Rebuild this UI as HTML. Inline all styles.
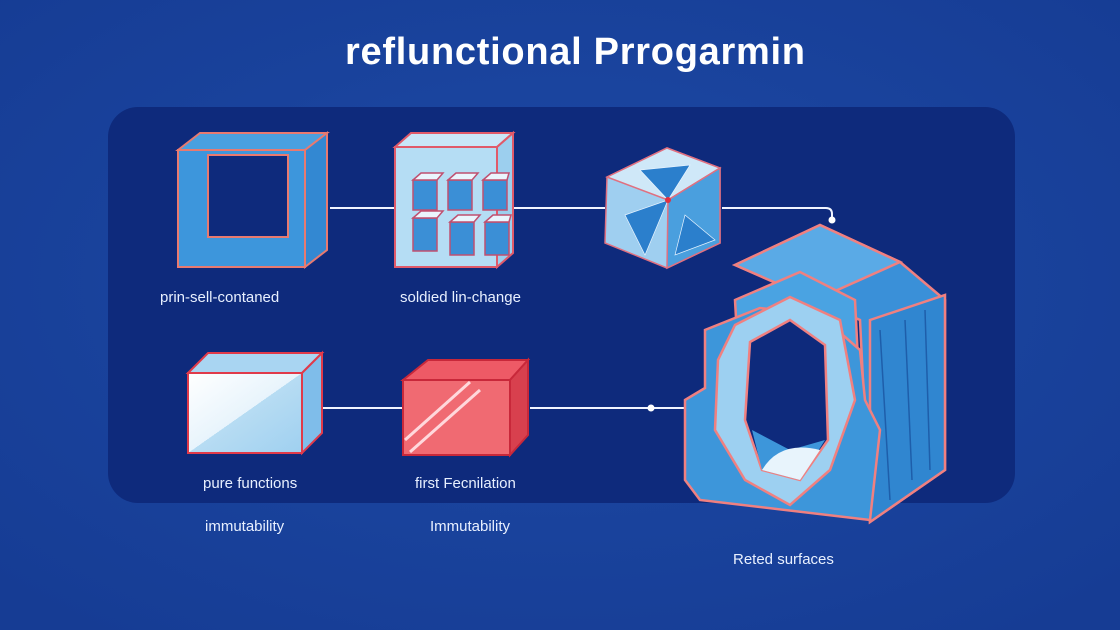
<!DOCTYPE html>
<html><head><meta charset="utf-8"><style>
body{margin:0;width:1120px;height:630px;overflow:hidden;background:#1a45a0;font-family:"Liberation Sans",sans-serif}
svg{display:block}
</style></head><body>
<svg width="1120" height="630" viewBox="0 0 1120 630" xmlns="http://www.w3.org/2000/svg">
<defs>
<radialGradient id="bg" cx="50%" cy="45%" r="70%"><stop offset="0" stop-color="#1d4aa6"/><stop offset="1" stop-color="#163c94"/></radialGradient>
<linearGradient id="wg" x1="0" y1="0" x2="1" y2="1"><stop offset="0" stop-color="#ffffff"/><stop offset="0.5" stop-color="#e8f4fc"/><stop offset="0.5" stop-color="#b7dcf3"/><stop offset="1" stop-color="#9fd0f0"/></linearGradient>
</defs>
<rect width="1120" height="630" fill="url(#bg)"/>
<rect x="108" y="107" width="907" height="396" rx="30" fill="#0e2a7c"/>
<text x="575" y="64" text-anchor="middle" fill="#fff" font-size="38" font-weight="bold" textLength="460">reflunctional Prrogarmin</text>
<g stroke="#f0f4ff" stroke-width="2" fill="none">
<line x1="330" y1="208" x2="395" y2="208"/><line x1="512" y1="208" x2="605" y2="208"/>
<path d="M722 208 H826 Q832 208 832 214 V218"/>
<line x1="305" y1="408" x2="403" y2="408"/><line x1="530" y1="408" x2="685" y2="408"/>
</g>
<circle cx="832" cy="220" r="3.5" fill="#fff"/><circle cx="651" cy="408" r="3.5" fill="#fff"/>
<!-- cube1 -->
<g stroke="#e87a70" stroke-width="2" fill="#3d96dc">
<path d="M178 150 L200 133 L327 133 L305 150 Z" fill="#4aa0e0"/>
<path d="M305 150 L327 133 L327 250 L305 267 Z" fill="#3388d2"/>
<path d="M178 150 H305 V267 H178 Z M208 155 V237 H288 V155 Z" fill-rule="evenodd"/>
</g>
<rect x="209" y="156" width="78" height="80" fill="#0e2a7c"/>
<!-- cube2 -->
<g stroke="#e05a6a" stroke-width="2">
<path d="M395 147 L411 133 L513 133 L497 147 Z" fill="#c8e6f8"/>
<path d="M497 147 L513 133 L513 253 L497 267 Z" fill="#9ccfee"/>
<rect x="395" y="147" width="102" height="120" fill="#b5ddf4"/>
</g>
<g stroke="#c05070" stroke-width="1.5" fill="#3b8fd6">
<rect x="413" y="180" width="24" height="30"/><rect x="448" y="180" width="24" height="30"/><rect x="483" y="180" width="24" height="30"/>
<rect x="413" y="218" width="24" height="33"/><rect x="450" y="222" width="24" height="33"/><rect x="485" y="222" width="24" height="33"/>
<path d="M413 180 l8 -7 h22 l-6 7z M448 180 l8 -7 h22 l-6 7z M483 180 l8 -7 h18 l-2 7z M413 218 l8 -7 h22 l-6 7z M450 222 l8 -7 h22 l-6 7z M485 222 l8 -7 h18 l-2 7z" fill="#eaf5fd"/>
</g>
<!-- hex -->
<g stroke="#e07080" stroke-width="1.5">
<path d="M607 177 L667 148 L720 168 L720 243 L667 268 L605 243 Z" fill="#9fcff0"/>
<path d="M607 177 L667 148 L720 168 L668 200 Z" fill="#cfe8f8"/>
<path d="M668 200 L720 168 L720 243 L667 268Z" fill="#4a9fde"/>
<path d="M625 215 L668 200 L645 255 Z M685 215 L715 240 L675 255 Z M640 170 L668 200 L690 165Z" fill="#2b7fcc" stroke="#e8f4ff" stroke-width="0.7"/>
</g>
<circle cx="668" cy="200" r="3" fill="#e03040"/>
<!-- cube4 -->
<g stroke="#e03a4a" stroke-width="2">
<path d="M188 373 L208 353 L322 353 L302 373 Z" fill="#a9d5f2"/>
<path d="M302 373 L322 353 L322 433 L302 453 Z" fill="#7fbdea"/>
<rect x="188" y="373" width="114" height="80" fill="url(#wg)"/>
</g>
<!-- cube5 -->
<g stroke="#c8283a" stroke-width="2">
<path d="M403 380 L428 360 L528 360 L510 380 Z" fill="#ee5a66"/>
<path d="M510 380 L528 360 L528 435 L510 455 Z" fill="#d8404e"/>
<rect x="403" y="380" width="107" height="75" fill="#f06a72"/>
</g>
<g stroke="#ffd8dc" stroke-width="3"><line x1="405" y1="440" x2="470" y2="382"/><line x1="410" y1="452" x2="480" y2="390"/></g>
<!-- big object -->
<g stroke="#f08080" stroke-width="2.5">
<path d="M735 265 L820 225 L900 262 L945 300 L945 470 L870 522 L860 320 Z" fill="#3a90d8"/>
<path d="M735 265 L820 225 L900 262 L815 300 Z" fill="#5aaae6"/>
<path d="M870 320 L945 295 L945 470 L870 522 Z" fill="#3086d0"/>
<path d="M880 330 L890 500 M905 320 L912 480 M925 310 L930 470" stroke="#1e5eaa" stroke-width="1.5"/>
<path d="M735 300 L800 272 L855 300 L860 400 L800 405 L740 390 Z" fill="#4aa3e2"/>
<path d="M685 400 L705 388 L705 330 L760 308 L820 315 L860 350 L865 400 L880 430 L870 520 L700 500 L685 480 Z" fill="#3d96da"/>
<path d="M735 325 L790 297 L840 320 L855 400 L830 470 L790 505 L745 480 L715 430 L718 360Z" fill="#9dd0f1"/>
<path d="M750 342 L790 320 L825 345 L828 440 L800 480 L762 470 L745 420Z" fill="#0e2a7c"/>
<path d="M752 430 L790 450 L825 440 L800 480 L762 470Z" fill="#3d96da" stroke="none"/>
<path d="M762 470 Q780 440 820 450 L800 480Z" fill="#e8f4fc" stroke="none"/>
</g>
<g fill="#e8f0ff" font-size="15">
<text x="160" y="302">prin-sell-contaned</text>
<text x="400" y="302">soldied lin-change</text>
<text x="203" y="488">pure functions</text>
<text x="415" y="488">first Fecnilation</text>
<text x="205" y="531">immutability</text>
<text x="430" y="531">Immutability</text>
<text x="733" y="564">Reted surfaces</text>
</g>
</svg>
</body></html>
